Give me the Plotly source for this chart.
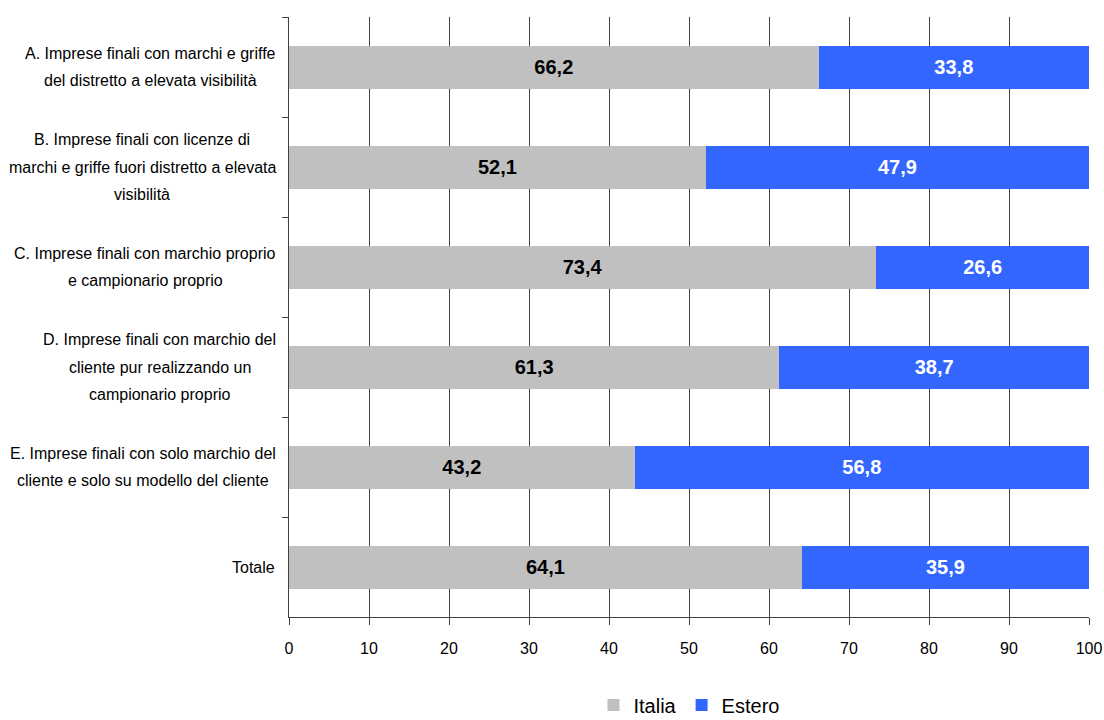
import plotly.graph_objects as go

# Categories (top to bottom) and the two shares per category
categorie = [
    "A. Imprese finali con marchi e griffe<br>del distretto a elevata visibilità",
    "B. Imprese finali con licenze di<br>marchi e griffe fuori distretto a elevata<br>visibilità",
    "C. Imprese finali con marchio proprio<br>e campionario proprio",
    "D. Imprese finali con marchio del<br>cliente pur realizzando un<br>campionario proprio",
    "E. Imprese finali con solo marchio del<br>cliente e solo su modello del cliente",
    "Totale",
]
italia = [66.2, 52.1, 73.4, 61.3, 43.2, 64.1]
estero = [33.8, 47.9, 26.6, 38.7, 56.8, 35.9]
x_ticks = [0, 10, 20, 30, 40, 50, 60, 70, 80, 90, 100]

FONT = "Liberation Sans, Arial, sans-serif"
LABEL_SIZE = 16

# Advance widths (1/1000 em) of the Arial-metric font, used to right-align
# each label block while centring its lines
ADV = {
    " ": 278, ".": 278, ",": 278,
    "A": 667, "B": 667, "C": 722, "D": 722, "E": 667, "I": 278, "T": 611,
    "a": 556, "b": 556, "c": 500, "d": 556, "e": 556, "f": 278, "g": 556,
    "h": 556, "i": 222, "j": 222, "k": 500, "l": 222, "m": 833, "n": 556,
    "o": 556, "p": 556, "q": 556, "r": 333, "s": 500, "t": 278, "u": 556,
    "v": 500, "w": 722, "x": 500, "y": 500, "z": 500, "à": 556,
}


def text_width(s, size):
    return sum(ADV.get(ch, 556) for ch in s) * size / 1000.0


def fmt(v):
    return f"{v:.1f}".replace(".", ",")


fig = go.Figure()
fig.add_trace(go.Bar(
    name="Italia", y=categorie, x=italia, orientation="h",
    marker=dict(color="#C0C0C0", line=dict(width=0)),
    text=[fmt(v) for v in italia], textposition="inside",
    insidetextanchor="middle",
    textfont=dict(family=FONT, size=20, color="black", weight="bold"),
))
fig.add_trace(go.Bar(
    name="Estero", y=categorie, x=estero, orientation="h",
    marker=dict(color="#3366FF", line=dict(width=0)),
    text=[fmt(v) for v in estero], textposition="inside",
    insidetextanchor="middle",
    textfont=dict(family=FONT, size=20, color="white", weight="bold"),
))

# Category labels: each block ends 13px left of the axis, lines centred
LINE_GAP = 27.5
RIGHT_PAD = 13
for cat in categorie:
    lines = cat.split("<br>")
    n = len(lines)
    block_w = max(text_width(l, LABEL_SIZE) for l in lines)
    centre_shift = -RIGHT_PAD - block_w / 2
    for i, line in enumerate(lines):
        fig.add_annotation(
            x=0, xref="paper", y=cat, yref="y",
            text=line, showarrow=False,
            xanchor="center", yanchor="middle",
            xshift=centre_shift,
            yshift=((n - 1) / 2 - i) * LINE_GAP,
            font=dict(family=FONT, size=LABEL_SIZE, color="black"),
        )

fig.update_layout(
    barmode="stack",
    bargap=0.57,
    width=1104, height=720,
    margin=dict(l=289, r=15, t=17, b=103),
    paper_bgcolor="white", plot_bgcolor="white",
    font=dict(family=FONT, size=16, color="black"),
    showlegend=True,
    legend=dict(
        orientation="h", x=0.5, xanchor="center", xref="paper",
        y=0.021, yanchor="middle", yref="container",
        font=dict(family=FONT, size=20, color="black"),
        traceorder="normal", itemwidth=30,
    ),
    xaxis=dict(
        range=[0, 100], tickvals=x_ticks, ticks="outside", ticklen=7,
        tickcolor="#404040", showgrid=True, gridcolor="#404040", gridwidth=1,
        showline=True, linecolor="#404040", linewidth=1, zeroline=False,
        tickfont=dict(family=FONT, size=16, color="black"),
        ticklabelstandoff=10, automargin=False,
        fixedrange=True,
    ),
    yaxis=dict(
        categoryorder="array", categoryarray=categorie,
        autorange="reversed", showticklabels=False,
        ticks="outside", ticklen=6, tickcolor="#404040", tickson="boundaries",
        showline=True, linecolor="#404040", linewidth=1, showgrid=False,
        automargin=False, fixedrange=True,
    ),
)

fig.write_html("out.html")
